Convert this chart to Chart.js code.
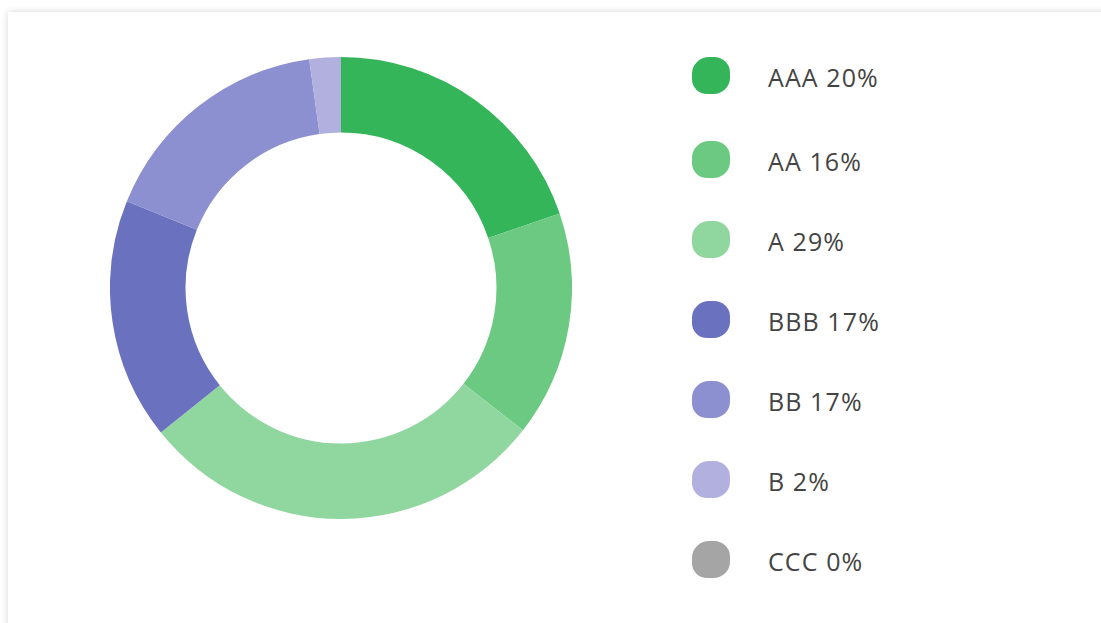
<!DOCTYPE html>
<html>
<head>
<meta charset="utf-8">
<script src="https://cdn.jsdelivr.net/npm/chart.js@4.4.0/dist/chart.umd.min.js"></script>
<style>
  html, body { margin: 0; padding: 0; background: #ffffff; overflow: hidden; }
  body { width: 1101px; height: 623px; position: relative; font-family: "Open Sans", sans-serif; }
  .card {
    position: absolute; left: 8px; top: 12px; width: 1120px; height: 640px;
    background: #fff; box-shadow: 0 0 7px rgba(0,0,0,0.16);
  }
  #chartBox { position: absolute; left: 110px; top: 57px; width: 462px; height: 462px; }
  #legend { position: absolute; left: 692px; top: 35px; margin: 0; padding: 0; list-style: none; }
  #legend li { height: 80px; display: flex; align-items: center; }
  #legend li:first-child { margin-bottom: 4px; }
  #legend .blob { width: 38px; height: 37px; border-radius: 45% 42% 44% 40%; margin-right: 38px; }
  #legend span { font-size: 25px; letter-spacing: 1.1px; color: #444; position: relative; top: 2px; }
</style>
</head>
<body>
<div class="card"></div>
<div id="chartBox"><canvas id="donut"></canvas></div>
<ul id="legend"></ul>
<script>
// ratings and their share of the portfolio
const ratings = ["AAA", "AA", "A", "BBB", "BB", "B", "CCC"];
const shares = [19.8, 15.8, 28.7, 16.9, 16.7, 2.2, 0];
const shareLabels = ["20%", "16%", "29%", "17%", "17%", "2%", "0%"];
const colors = ["#34b55a", "#6cc981", "#90d69f", "#6a72c0", "#8d90d0", "#b1b0df", "#a5a5a5"];

new Chart(document.getElementById("donut"), {
  type: 'doughnut',
  data: {
    labels: ratings,
    datasets: [{
      data: shares,
      backgroundColor: colors,
      borderWidth: 0
    }]
  },
  options: {
    responsive: true,
    maintainAspectRatio: false,
    animation: false,
    cutout: '67.3%',
    layout: { padding: 0 },
    plugins: {
      legend: { display: false },
      tooltip: { enabled: false }
    }
  }
});

// legend on the right
const legend = document.getElementById("legend");
ratings.forEach(function (r, i) {
  const li = document.createElement("li");
  const blob = document.createElement("div");
  blob.className = "blob";
  blob.style.background = colors[i];
  const txt = document.createElement("span");
  txt.textContent = r + " " + shareLabels[i];
  li.appendChild(blob);
  li.appendChild(txt);
  legend.appendChild(li);
});
</script>
</body>
</html>
